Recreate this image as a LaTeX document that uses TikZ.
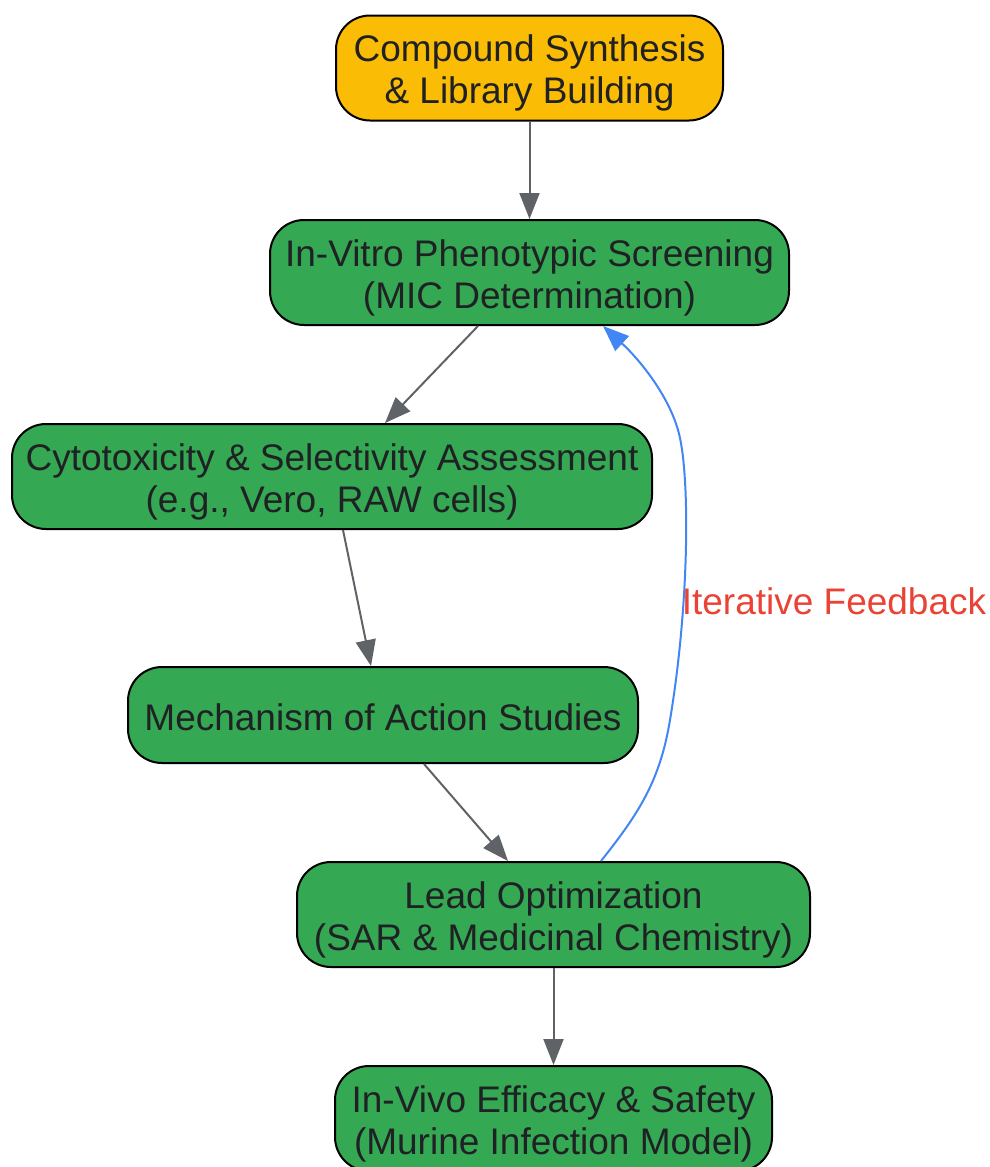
\documentclass[tikz,border=0pt]{standalone}
\usepackage{fontspec}
\setmainfont{Liberation Sans}
\usepackage{xcolor}
\usetikzlibrary{arrows.meta}
\definecolor{stepgreen}{HTML}{34A853}
\definecolor{startorange}{HTML}{FBBC05}
\definecolor{flowgray}{HTML}{5F6368}
\definecolor{loopblue}{HTML}{4285F4}
\definecolor{loopred}{HTML}{EA4335}
\definecolor{inkdark}{HTML}{202124}
\newcommand{\toplift}{\rule{0pt}{37pt}}
\tikzset{
  stage/.style={draw=black, line width=2pt, fill=stepgreen, rounded corners=34pt,
    text=inkdark, align=center, inner sep=0pt, minimum height=105pt,
    font=\fontsize{37}{42}\selectfont},
  flow/.style={draw=flowgray, line width=2pt, -{Triangle[length=26pt,width=20pt]}},
}
\begin{document}
\begin{tikzpicture}[x=1pt,y=-1pt]
                \useasboundingbox (0,0) rectangle (990,1167);
                % pipeline stages
                \node[stage, fill=startorange, minimum width=387pt] (synth) at (529.5,68) {\toplift Compound Synthesis\\\& Library Building};
                \node[stage, minimum width=519pt] (screen) at (529.5,272.5) {\toplift In-Vitro Phenotypic Screening\\(MIC Determination)};
                \node[stage, minimum width=640pt] (cyto) at (332,476.5) {\toplift Cytotoxicity \& Selectivity Assessment\\(e.g., Vero, RAW cells)};
                \node[stage, minimum width=510pt, minimum height=96pt] (moa) at (383,715) {\rule{0pt}{31pt}Mechanism of Action Studies};
                \node[stage, minimum width=513pt] (lead) at (553.5,914.5) {\toplift Lead Optimization\\(SAR \& Medicinal Chemistry)};
                \node[stage, minimum width=437pt] (vivo) at (553.5,1118.5) {\toplift In-Vivo Efficacy \& Safety\\(Murine Infection Model)};
                % forward arrows
                \draw[flow] (synth.south) -- (screen.north);
                \draw[flow] (screen.south -| 478,0) -- (cyto.north -| 385,0);
                \draw[flow] (cyto.south -| 343,0) -- (moa.north -| 371,0);
                \draw[flow] (moa.south -| 424,0) -- (lead.north -| 508,0);
                \draw[flow] (lead.south) -- (vivo.north);
                % feedback loop
                \coordinate (fbout) at (lead.north -| 601,0);
                \coordinate (fbin) at (screen.south -| 603,0);
                \draw[draw=loopblue, line width=2pt, -{Triangle[length=26pt,width=20pt]}]
                  (fbout) .. controls (640,812) and (660,780) .. (670,720)
                  .. controls (690,600) and (690,470) .. (678,430)
                  .. controls (668,395) and (640,360) .. (fbin);
                \node[text=loopred, font=\fontsize{37}{42}\selectfont] (fblabel) at (834,601) {Iterative Feedback};
            \end{tikzpicture}
\end{document}
